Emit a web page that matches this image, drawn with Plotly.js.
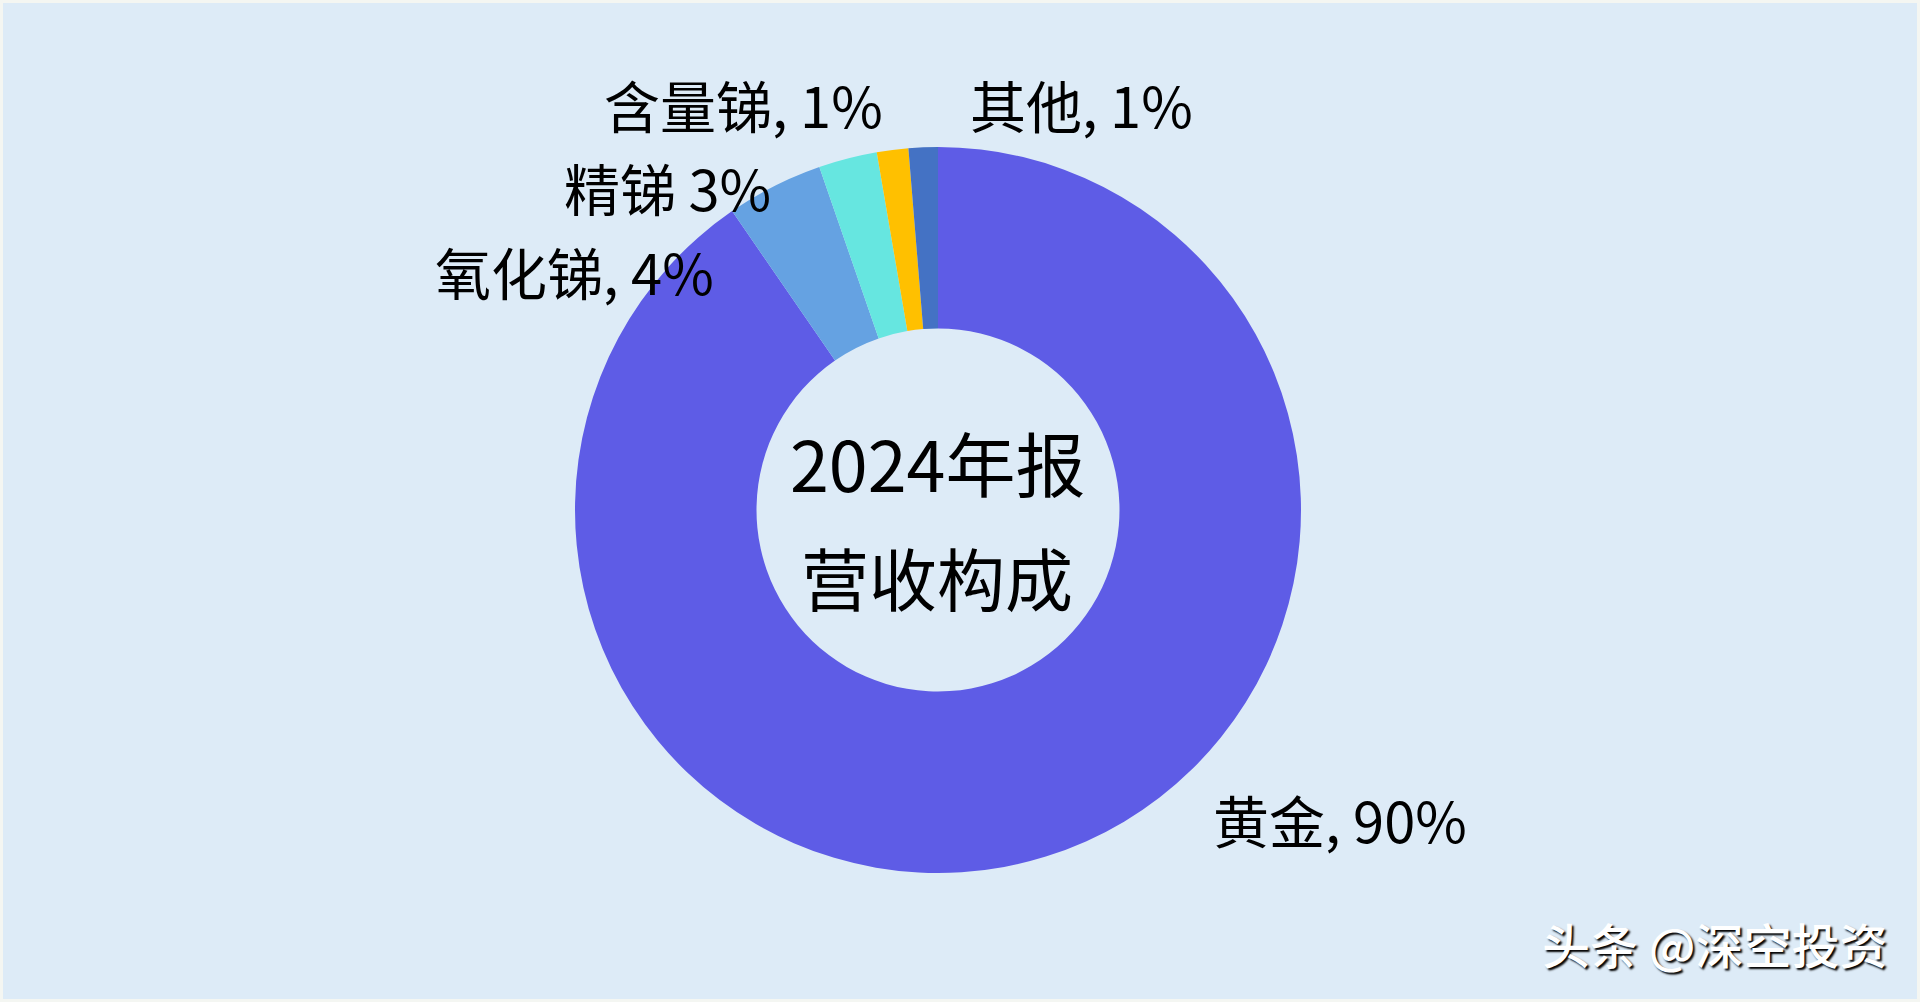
<!DOCTYPE html>
<html>
<head>
<meta charset="utf-8">
<script src="https://cdn.plot.ly/plotly-3.0.1.min.js"></script>
<style>
html,body{margin:0;padding:0;background:#F4F6F2;}
#chart{width:1920px;height:1002px;}
</style>
</head>
<body>
<div id="chart"></div>
<script>
// Data
var categories = ["黄金", "氧化锑", "精锑", "含量锑", "其他"];
var values = [90.4, 4.3, 2.6, 1.4, 1.3];
var pctLabels = ["90%", "4%", "3%", "1%", "1%"];
var separators = [", ", ", ", " ", ", ", ", "];
var colors = ["#5E5CE6", "#65A2E2", "#66E6E0", "#FFC000", "#4472C4"];
var centerLines = ["2024年报", "营收构成"];
var watermark = "头条 @深空投资";

var W = 1920, H = 1002;
var cx = 938, cy = 510, R = 363;

// label positions (pixel centers) – layout only
var labelPos = [
  [1340, 818],
  [574, 270],
  [667, 187],
  [743, 104],
  [1081, 104]
];

var trace = {
  type: "pie",
  labels: categories,
  values: values,
  hole: 0.5,
  sort: false,
  direction: "clockwise",
  rotation: 0,
  textinfo: "none",
  hoverinfo: "label+percent",
  marker: {colors: colors, line: {width: 0}},
  domain: {
    x: [(cx - R) / W, (cx + R) / W],
    y: [1 - (cy + R) / H, 1 - (cy - R) / H]
  },
  showlegend: false
};

var font = "'Noto Sans CJK SC', 'Noto Sans', sans-serif";
var annotations = [];
for (var i = 0; i < categories.length; i++) {
  annotations.push({
    xref: "paper", yref: "paper",
    x: labelPos[i][0] / W, y: 1 - labelPos[i][1] / H,
    xanchor: "center", yanchor: "middle",
    text: categories[i] + separators[i] + pctLabels[i],
    showarrow: false,
    font: {family: font, size: 56, color: "#000000"}
  });
}
var centerY = [462, 576];
var centerSize = [70, 68];
for (var j = 0; j < centerLines.length; j++) {
  annotations.push({
    xref: "paper", yref: "paper",
    x: 937 / W, y: 1 - centerY[j] / H,
    xanchor: "center", yanchor: "middle",
    text: centerLines[j],
    showarrow: false,
    font: {family: font, size: centerSize[j], color: "#000000"}
  });
}
annotations.push({
  xref: "paper", yref: "paper",
  x: 1889 / W, y: 1 - 943 / H,
  xanchor: "right", yanchor: "middle",
  text: watermark,
  showarrow: false,
  font: {family: font, size: 48, weight: 500, color: "#FFFFFF", shadow: "2px 2px 2px #000000"}
});

var layout = {
  width: W, height: H,
  margin: {l: 0, r: 0, t: 0, b: 0},
  paper_bgcolor: "#DDEBF7",
  plot_bgcolor: "#DDEBF7",
  annotations: annotations,
  shapes: [{
    type: "rect", xref: "paper", yref: "paper",
    x0: 0, y0: 0, x1: 1, y1: 1,
    line: {color: "#F4F6F2", width: 6},
    fillcolor: "rgba(0,0,0,0)"
  }]
};

Plotly.newPlot("chart", [trace], layout, {displayModeBar: false, staticPlot: true});
</script>
</body>
</html>
